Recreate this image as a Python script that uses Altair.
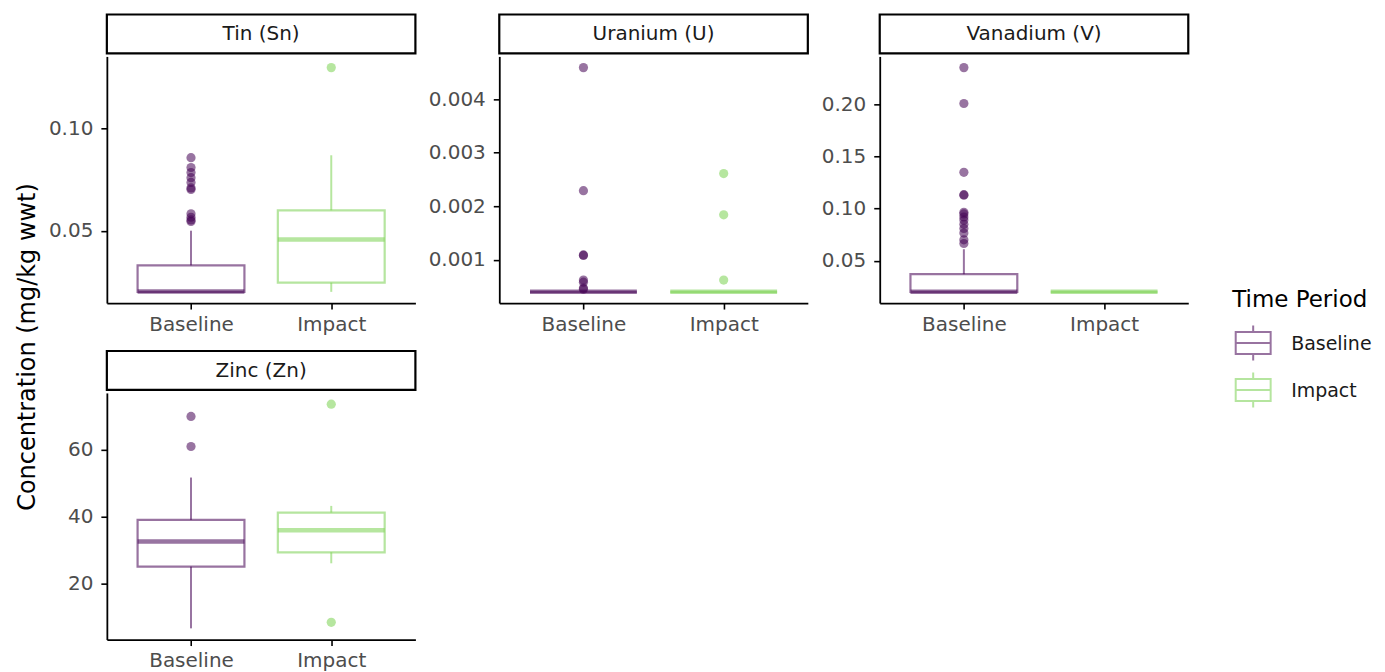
import altair as alt
import pandas as pd

# ---------------- data ----------------
elements = ["Tin (Sn)", "Uranium (U)", "Vanadium (V)", "Zinc (Zn)"]
periods = ["Baseline", "Impact"]
period_colors = ["#440154", "#7AD151"]

# box statistics, one row per element x period
box_element = ["Tin (Sn)", "Tin (Sn)", "Uranium (U)", "Uranium (U)",
               "Vanadium (V)", "Vanadium (V)", "Zinc (Zn)", "Zinc (Zn)"]
box_period = ["Baseline", "Impact"] * 4
box_low = [0.020, 0.020, 0.0004, 0.0004, 0.020, 0.020, 6.5, 26.0]
box_q1 = [0.020, 0.0245, 0.0004, 0.0004, 0.020, 0.020, 25.0, 29.3]
box_median = [0.0202, 0.0457, 0.0004, 0.0004, 0.0202, 0.020, 32.5, 35.9]
box_q3 = [0.033, 0.060, 0.0004, 0.0004, 0.037, 0.020, 39.0, 41.2]
box_high = [0.050, 0.087, 0.0004, 0.0004, 0.061, 0.020, 51.7, 43.2]

# outliers
tin_base_out = [0.0858, 0.0810, 0.0785, 0.0760, 0.0737, 0.0710, 0.0702,
                0.0583, 0.0566, 0.0553, 0.0545]
tin_imp_out = [0.130]
u_base_out = [0.00459, 0.00229, 0.00109, 0.00108, 0.00062, 0.00058,
              0.00047, 0.00045]
u_imp_out = [0.00261, 0.00184, 0.00062]
v_base_out = [0.2357, 0.2012, 0.135, 0.1135, 0.113, 0.0965, 0.095, 0.092,
              0.089, 0.085, 0.081, 0.0765, 0.070, 0.0665]
v_imp_out = []
zn_base_out = [70.0, 61.0]
zn_imp_out = [73.7, 8.3]

# tick labels per panel
tin_ticks = [0.05, 0.10]
u_ticks = [0.001, 0.002, 0.003, 0.004]
v_ticks = [0.05, 0.10, 0.15, 0.20]
zn_ticks = [20, 40, 60]

y_title = "Concentration (mg/kg wwt)"
legend_title = "Time Period"

# ---------------- tables ----------------
box_df = pd.DataFrame({
    "Element": box_element, "Period": box_period, "low": box_low,
    "q1": box_q1, "median": box_median, "q3": box_q3, "high": box_high,
})

out_rows = []
for el, per, vals in [
    ("Tin (Sn)", "Baseline", tin_base_out), ("Tin (Sn)", "Impact", tin_imp_out),
    ("Uranium (U)", "Baseline", u_base_out), ("Uranium (U)", "Impact", u_imp_out),
    ("Vanadium (V)", "Baseline", v_base_out), ("Vanadium (V)", "Impact", v_imp_out),
    ("Zinc (Zn)", "Baseline", zn_base_out), ("Zinc (Zn)", "Impact", zn_imp_out),
]:
    for v in vals:
        out_rows.append({"Element": el, "Period": per, "value": v})
out_df = pd.DataFrame(out_rows)

# ---------------- styling ----------------
FONT = "DejaVu Sans"
W, H = 309, 247
BOX_W = 107
ALPHA = 0.55

legend_path = "M-1,-0.63H1V0.63H-1Z M-1,0H1 M0,-0.63V-1 M0,0.63V1"

color_scale = alt.Scale(domain=periods, range=period_colors)
stroke = alt.Stroke("Period:N", scale=color_scale, legend=None)
fill = alt.Fill("Period:N", scale=color_scale, legend=None)


def legend_layers():
    """Legend drawn beside the Vanadium panel (offsets relative to it)."""
    layers = []
    title_df = pd.DataFrame({"t": [legend_title]})
    layers.append(alt.Chart(title_df).mark_text(
        font=FONT, fontSize=23, color="#000000", align="left",
        baseline="alphabetic").encode(
        x=alt.value(353), y=alt.value(251), text="t:N"))
    for i, per in enumerate(periods):
        d = pd.DataFrame({"Period": [per]})
        yy = 287 + 47 * i
        layers.append(alt.Chart(d).mark_point(
            shape=legend_path, size=1225, filled=False, strokeWidth=2,
            opacity=ALPHA).encode(
            x=alt.value(374), y=alt.value(yy), stroke=stroke))
        layers.append(alt.Chart(d).mark_text(
            font=FONT, fontSize=19, color="#1a1a1a", align="left",
            baseline="middle").encode(
            x=alt.value(412), y=alt.value(yy + 1), text="Period:N"))
    return layers


def panel(el, ticks, fmt, extra_layers=()):
    b = box_df[box_df["Element"] == el]
    o = out_df[out_df["Element"] == el]
    vals = list(b["low"]) + list(b["high"]) + list(o["value"])
    lo, hi = min(vals), max(vals)
    pad = 0.05 * (hi - lo)
    yscale = alt.Scale(domain=[lo - pad, hi + pad], nice=False, zero=False)
    yaxis = alt.Axis(values=ticks, format=fmt, title=None)
    x = alt.X("Period:N",
              scale=alt.Scale(type="point", domain=periods, padding=0.6),
              axis=alt.Axis(title=None, labelAngle=0))

    base = alt.Chart(b)
    w_lo = base.mark_rule(strokeWidth=2, opacity=ALPHA).encode(
        x=x, y=alt.Y("low:Q", scale=yscale, axis=yaxis), y2="q1:Q",
        stroke=stroke)
    w_hi = base.mark_rule(strokeWidth=2, opacity=ALPHA).encode(
        x=x, y=alt.Y("q3:Q", scale=yscale, axis=yaxis), y2="high:Q",
        stroke=stroke)
    box = base.mark_bar(filled=False, strokeWidth=2.2, opacity=ALPHA,
                        size=BOX_W).encode(
        x=x, y=alt.Y("q1:Q", scale=yscale, axis=yaxis), y2="q3:Q",
        stroke=stroke)
    med = base.mark_tick(thickness=4.5, size=BOX_W, opacity=ALPHA).encode(
        x=x, y=alt.Y("median:Q", scale=yscale, axis=yaxis), fill=fill)
    pts = alt.Chart(o).mark_circle(size=85, opacity=ALPHA).encode(
        x=x, y=alt.Y("value:Q", scale=yscale, axis=yaxis), fill=fill)

    strip_df = pd.DataFrame({"label": [el]})
    strip = alt.Chart(strip_df).mark_rect(
        fill="white", stroke="black", strokeWidth=2.2).encode(
        x=alt.value(0), x2=alt.value(W), y=alt.value(-42), y2=alt.value(-3))
    strip_txt = alt.Chart(strip_df).mark_text(
        font=FONT, fontSize=20, color="#1a1a1a", baseline="middle",
        align="center").encode(
        x=alt.value(W / 2), y=alt.value(-22), text="label:N")

    layers = [w_lo, w_hi, box, med, pts, strip, strip_txt] + list(extra_layers)
    return alt.layer(*layers).properties(width=W, height=H)


def spacer(width):
    return alt.Chart(pd.DataFrame({"a": [0]})).mark_point(opacity=0).encode(
        x=alt.value(0), y=alt.value(0)).properties(width=width, height=1)


title_layer = alt.Chart(pd.DataFrame({"t": [y_title]})).mark_text(
    font=FONT, fontSize=24, color="#000000", angle=270, align="center",
    baseline="middle").encode(x=alt.value(-79), y=alt.value(-46), text="t:N")

tin = panel("Tin (Sn)", tin_ticks, ".2f")
ura = panel("Uranium (U)", u_ticks, ".3f")
van = panel("Vanadium (V)", v_ticks, ".2f", extra_layers=legend_layers())
zn = panel("Zinc (Zn)", zn_ticks, "d", extra_layers=[title_layer])

chart = alt.concat(
    tin, spacer(84), ura, spacer(72), van, zn,
    columns=5, spacing={"row": 90, "column": 0}, bounds="flush",
).resolve_scale(
    y="independent", x="independent", stroke="shared", fill="shared"
).properties(
    padding={"left": 7, "top": 4, "right": 5, "bottom": 0}
).configure_view(stroke=None).configure_axis(
    grid=False, domainColor="#000000", domainWidth=1.8, tickColor="#000000",
    tickWidth=1.6, tickSize=6, labelColor="#4d4d4d", labelFont=FONT,
    labelFontSize=20, labelPadding=5,
).configure_axisY(labelPadding=8)

chart.save("out.html", embed_options={"renderer": "svg", "actions": False})
